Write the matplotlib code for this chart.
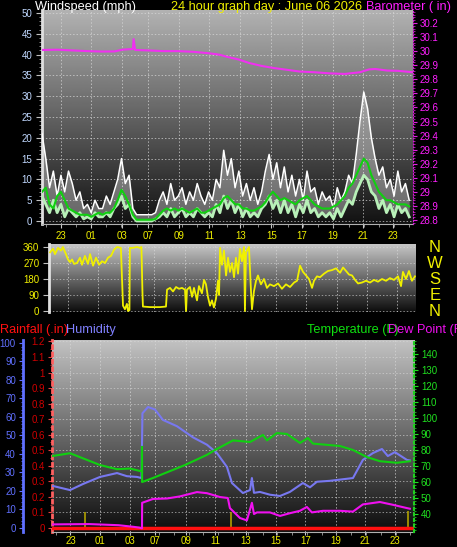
import numpy as np
import matplotlib.pyplot as plt

plt.rcParams['font.family'] = ['Liberation Sans', 'DejaVu Sans']

# x axis: hours from the left edge of the graph
tick_hours = [1.25, 3.25, 5.3, 7.0, 9.05, 11.05, 13.1, 15.15, 17.15, 19.2, 21.2, 23.2]
tick_labels = ['23', '01', '03', '07', '09', '11', '13', '15', '17', '19', '21', '23']

# wind (mph), one reading every 15 minutes
gust = [21, 15, 8, 12, 6, 11, 7, 12, 9, 5, 7, 3, 4, 2, 5, 3,
        3, 6, 4, 7, 10, 15, 9, 11, 3, 1.5, 1.5, 1.5, 1.5, 1.5, 2, 5,
        7, 4, 9, 5, 6, 8, 4, 7, 5, 9, 6, 4, 7, 5, 10, 8,
        17, 11, 15, 8, 12, 6, 9, 5, 8, 4, 7, 12, 16, 10, 14, 8,
        13, 7, 11, 6, 10, 5, 12, 7, 8, 4, 7, 5, 6, 3, 8, 5,
        7, 11, 9, 16, 24, 31, 27, 20, 15, 11, 13, 8, 10, 6, 12, 7,
        9, 5]
speed = [6, 4, 2, 5, 2, 4, 1, 3, 2, 1, 2, 0.5, 1, 0.5, 2, 1,
         1, 2, 1, 3, 4, 6, 3, 4, 1, 0, 0, 0, 0, 0, 0.5, 1,
         2, 1, 3, 1, 2, 3, 1, 2, 1, 3, 2, 1, 2, 1, 4, 2,
         6, 3, 5, 2, 4, 1, 3, 1, 2, 1, 3, 4, 6, 3, 5, 2,
         5, 2, 4, 1, 4, 2, 5, 2, 3, 1, 2, 1, 2, 0.5, 3, 1,
         3, 5, 4, 7, 9, 11, 10, 7, 6, 3, 5, 2, 4, 1, 4, 2,
         3, 1]
avg = [7, 8, 4, 3, 6, 7, 5, 3, 2.5, 2, 1.5, 1.5, 1.5, 1, 1.5, 2,
       1.5, 2, 2, 3, 5, 7.5, 6, 4, 1.5, 0.3, 0.3, 0.3, 0.3, 0.3, 0.5, 1.5,
       2.5, 3, 2.5, 3, 2.5, 3, 2.5, 2, 2.5, 3, 2, 2, 2.5, 3, 3.5, 4,
       5.5, 6, 5, 4, 4, 3, 3, 2.5, 2.5, 3, 3.5, 4.5, 6, 7, 6, 5,
       5.5, 5, 4.5, 4, 5, 5.5, 6, 5, 4, 3.5, 3, 3, 3, 3.5, 4, 5,
       6, 8, 9, 11, 13, 15, 14, 11, 9, 7, 6, 5, 5, 4.5, 4, 4,
       4, 3.5]
wind_hours = np.arange(len(gust)) * 0.25

# barometer (in)
baro_hours = [0, 1, 2, 3, 4, 4.8, 5.3, 6.0, 6.05, 6.15, 7, 8, 9, 10, 11, 11.7,
              12.2, 13, 13.7, 14.5, 15.3, 16, 17, 18, 19, 20, 21, 21.6, 22,
              22.8, 23.5, 24.5]
baro = [30.008, 30.01, 30.005, 30.0, 29.997, 29.998, 30.01, 30.015, 30.085,
        30.008, 30.005, 30.0, 30.0, 29.995, 29.985, 29.975, 29.96, 29.94,
        29.915, 29.895, 29.88, 29.87, 29.855, 29.85, 29.842, 29.838, 29.85,
        29.87, 29.873, 29.862, 29.86, 29.85]

# wind direction (degrees)
wdir_hours = [0.07, 0.27, 0.4, 0.6, 0.8, 0.93, 1.13, 1.27, 1.4, 1.54, 1.67, 1.87,
              2.07, 2.2, 2.4, 2.6, 2.74, 2.94, 3.14, 3.34, 3.54, 3.74, 3.94,
              4.14, 4.34, 4.54, 4.8, 4.94, 5.07, 5.2, 5.27, 5.37, 5.4, 5.6,
              5.87, 6.07, 6.17, 6.24, 6.27, 6.74, 7.41, 7.81, 7.88, 8.08,
              8.28, 8.48, 8.68, 8.88, 9.08, 9.15, 9.21, 9.41, 9.55, 9.68,
              9.88, 10.01, 10.21, 10.35, 10.48, 10.61, 10.75, 10.88, 11.01,
              11.15, 11.28, 11.35, 11.42, 11.55, 11.68, 11.82, 11.95, 12.08,
              12.22, 12.35, 12.48, 12.62, 12.75, 12.88, 13.02, 13.08, 13.15,
              13.35, 13.48, 13.55, 13.68, 13.82, 13.95, 14.15, 14.35, 14.55,
              14.75, 15.02, 15.29, 15.55, 15.82, 16.09, 16.36, 16.56, 16.76,
              16.96, 17.16, 17.36, 17.56, 17.69, 17.89, 18.09, 18.36, 18.62,
              18.89, 19.16, 19.43, 19.63, 19.83, 20.03, 20.23, 20.43, 20.63,
              20.89, 21.16, 21.43, 21.7, 21.96, 22.23, 22.5, 22.76, 23.03,
              23.3, 23.5, 23.63, 23.83, 24.03, 24.23, 24.43]
wdir = [330, 350, 320, 355, 340, 360, 320, 290, 275, 290, 265, 270,
        300, 260, 310, 265, 320, 255, 300, 260, 280, 270, 300,
        310, 345, 360, 355, 30, 10, 40, 0, 5, 355, 355,
        360, 355, 360, 100, 25, 22, 22, 25, 120, 130,
        110, 135, 125, 130, 120, 0, 120, 135, 80, 130,
        60, 140, 100, 175, 150, 80, 30, 60, 20,
        70, 170, 90, 355, 260, 340, 200, 300, 220,
        270, 190, 300, 210, 350, 280, 360, 0, 330,
        360, 120, 10, 110, 170, 200, 150, 180, 130,
        150, 140, 155, 125, 150, 135, 160, 170, 255,
        220, 200, 180, 130, 170, 195, 190, 210, 225,
        230, 240, 215, 245, 225, 205, 200, 175, 155,
        160, 170, 160, 175, 165, 180, 170, 185, 175,
        195, 140, 220, 180, 225, 170, 195]

# temperature / dew point (F)
temp_hours = [0.07, 1.22, 3.25, 4.4, 5.28, 5.95, 6.08, 6.09, 6.1, 6.83, 9.0,
              10.49, 11.03, 12.25, 13.4, 14.28, 14.55, 15.22, 15.9, 16.78,
              17.32, 17.66, 19.49, 20.37, 21.31, 22.19, 23.34, 24.22]
temp = [76.3, 78, 70.6, 68, 68.4, 66.9, 67, 82, 60, 62.5, 70.6,
        77, 80, 86, 85, 89.4, 86, 90.6, 90, 84.4,
        87.5, 84, 82.5, 80, 75.6, 73, 72, 73]
dew_hours = [0.07, 2.5, 4.5, 5.5, 5.9, 6.09, 6.1, 6.83, 7.78, 8.66, 9.81,
             10.49, 11.37, 11.9, 12.04, 12.72, 13.19, 13.53, 13.67, 13.87,
             14.75, 15.43, 16.1, 16.78, 17.25, 17.59, 18.34, 19.49, 20.37,
             21.04, 22.19, 23.0, 24.02, 24.22]
dew = [33.5, 33.7, 33, 32, 31.5, 31, 47, 49.4, 49.7, 51, 53.7,
       53, 50.6, 50, 43.7, 37.5, 36, 47, 40, 41,
       41, 38.8, 40.5, 42, 44.4, 41, 42, 42, 41.5,
       46, 47.5, 45.9, 43.7, 43.3]

# humidity (%)
hum_hours = [0.07, 1.22, 2.1, 3.25, 4.4, 5.07, 5.75, 6.06, 6.12, 6.5, 6.97,
             7.51, 8.46, 9.54, 10.49, 11.16, 11.84, 12.18, 12.92, 13.4, 13.53,
             13.67, 14.07, 14.75, 15.43, 16.1, 16.98, 17.46, 17.93, 18.81,
             20.37, 21.04, 21.72, 22.33, 22.73, 23.21, 24.02, 24.22]
hum = [22.7, 20.5, 23.8, 27.6, 29.7, 28, 27.6, 27, 62, 65.4, 64,
       58.4, 55, 49, 45, 40.5, 33, 24.3, 18.9, 20.5, 27,
       19, 19.5, 18, 17.3, 19.5, 24.3, 22, 25, 25.5,
       27, 36.8, 40.5, 42.7, 38.9, 41, 36.8, 36.5]

# rainfall (in)
rain_hours = [0, 24.5]
rain = [0, 0]
rain_mark_hours = [2.23, 12.1, 24.08]
rain_mark = [0.1, 0.1, 0.11]

W, H = 457, 547
fig = plt.figure(figsize=(W / 100, H / 100), dpi=100, facecolor='black')


def box(l, t, r, b):
    return [l / W, 1 - b / H, (r - l) / W, (b - t) / H]


def shade(ax, top, bottom):
    grad = np.linspace(top, bottom, 256).reshape(-1, 1)
    ax.imshow(grad, cmap='gray', vmin=0, vmax=1, extent=(0, 1, 0, 1),
              transform=ax.transAxes, aspect='auto', zorder=0)


def style_x(ax, labels=True):
    ax.set_xlim(0, 24.5)
    ax.set_xticks(tick_hours)
    ax.set_xticks(np.arange(0.25, 24.5, 1.0), minor=True)
    if labels:
        ax.set_xticklabels(tick_labels)
    else:
        ax.set_xticklabels([])
    ax.tick_params(axis='x', which='major', colors='#c8c8c8', labelcolor='#f0f000',
                   labelsize=7, length=2, pad=1)
    ax.tick_params(axis='x', which='minor', colors='#a0a0a0', length=2)
    ax.grid(True, which='major', color='#d8d8d8', linestyle=(0, (1.5, 2)),
            linewidth=0.7, alpha=0.7)


# ---------------- wind speed / barometer ----------------
ax1 = fig.add_axes(box(42, 10, 413, 224))
shade(ax1, 0.70, 0.07)
ax1.fill_between(wind_hours, speed, gust, color='white', alpha=0.35, lw=0, zorder=2)
ax1.plot(wind_hours, gust, color='white', lw=1.1, zorder=3)
ax1.plot(wind_hours, speed, color='#b8f0b8', lw=2.0, zorder=4)
ax1.plot(wind_hours, avg, color='#10d010', lw=1.5, zorder=5)
ax1.set_ylim(-0.72, 50.72)
ax1.set_yticks(range(0, 51, 5))
ax1.set_yticks(range(0, 51, 1), minor=True)
ax1.tick_params(axis='y', which='major', colors='#c0c0c0', labelcolor='#c0d8ff',
                labelsize=7, length=4, pad=3)
ax1.tick_params(axis='y', which='minor', colors='#a0a0a0', length=2)
style_x(ax1)
ax1.tick_params(axis='x', which='major', length=3, pad=2)
ax1.grid(True, axis='y', color='#d8d8d8', linestyle=(0, (1.5, 2)), linewidth=0.7, alpha=0.7)
for s in ['top', 'right']:
    ax1.spines[s].set_visible(False)
ax1.spines['left'].set_color('#e0e0e0')
ax1.spines['left'].set_linewidth(2)
ax1.spines['bottom'].set_color('#b0b0b0')

axb = ax1.twinx()
axb.plot(baro_hours, baro, color='#f030f0', lw=1.5, zorder=6)
axb.set_ylim(28.772, 30.292)
axb.set_yticks(np.arange(28.8, 30.25, 0.1))
axb.set_yticklabels(['%g' % round(v, 1) for v in np.arange(28.8, 30.25, 0.1)])
axb.set_yticks(np.arange(28.78, 30.29, 0.02), minor=True)
axb.tick_params(axis='y', which='major', colors='#e020e0', labelcolor='#ff20ff',
                labelsize=7, length=3, pad=2)
axb.tick_params(axis='y', which='minor', colors='#c020c0', length=1.5)
for s in ['top', 'left', 'bottom']:
    axb.spines[s].set_visible(False)
axb.spines['right'].set_color('#d020d0')
axb.spines['right'].set_linestyle(':')

fig.text(35 / W, 1 - 10 / H, 'Windspeed (mph)', color='white', fontsize=9.2, va='baseline')
fig.text(171 / W, 1 - 10 / H, '24 hour graph day : June 06 2026', color='#f0f000',
         fontsize=9.2, va='baseline')
fig.text(366 / W, 1 - 10 / H, 'Barometer ( in)', color='#ff20ff', fontsize=9.2,
         va='baseline')

# ---------------- wind direction ----------------
ax2 = fig.add_axes(box(49, 244, 416, 312))
shade(ax2, 0.78, 0.05)
ax2.plot(wdir_hours, wdir, color='#f0f000', lw=1.3, zorder=3)
ax2.set_ylim(-5.6, 376.9)
ax2.set_yticks([0, 90, 180, 270, 360])
ax2.tick_params(axis='y', colors='#c0c0c0', labelcolor='#f0f000', labelsize=7,
                length=4, pad=3)
style_x(ax2, labels=False)
ax2.tick_params(axis='x', which='both', length=0)
ax2.grid(True, axis='y', color='#d8d8d8', linestyle=(0, (1.5, 2)), linewidth=0.7, alpha=0.6)
for s in ['top', 'right', 'bottom']:
    ax2.spines[s].set_visible(False)
ax2.spines['left'].set_color('#e0e0e0')
ax2.spines['left'].set_linewidth(2)
for i, c in enumerate(['N', 'W', 'S', 'E', 'N']):
    fig.text(435 / W, 1 - (247 + 16.2 * i) / H, c, color='#f0f000', fontsize=12,
             ha='center', va='center')

# ---------------- rain / humidity / temperature ----------------
ax3 = fig.add_axes(box(52, 340, 414, 532))
shade(ax3, 0.76, 0.05)
ax3.plot(rain_hours, rain, color='#ff1010', lw=2.5, zorder=4)
ax3.vlines(rain_mark_hours, 0, rain_mark, color='#b0a000', lw=1.2, zorder=3)
ax3.set_ylim(-0.0257, 1.209)
ax3.set_yticks(np.arange(0, 1.25, 0.1))
ax3.set_yticklabels(['%g' % round(v, 1) for v in np.arange(0, 1.25, 0.1)])
ax3.set_yticks(np.arange(0, 1.21, 0.05), minor=True)
ax3.tick_params(axis='y', which='major', colors='#e04040', labelcolor='#d00000',
                labelsize=7, length=3, pad=2)
ax3.tick_params(axis='y', which='minor', colors='#e04040', length=1.5)
style_x(ax3)
ax3.grid(True, axis='y', color='#d8d8d8', linestyle=(0, (1.5, 2)), linewidth=0.7, alpha=0.6)
for s in ['top', 'right']:
    ax3.spines[s].set_visible(False)
ax3.spines['left'].set_color('#ff6060')
ax3.spines['left'].set_linestyle(':')
ax3.spines['left'].set_linewidth(2)
ax3.spines['bottom'].set_color('#b0b0b0')

axh = ax3.twinx()
axh.yaxis.set_ticks_position('left')
axh.yaxis.set_label_position('left')
axh.spines['left'].set_position(('outward', 21))
axh.plot(hum_hours, hum, color='#7878f0', lw=1.5, zorder=5)
axh.set_ylim(-2.16, 101.6)
axh.set_yticks(range(0, 101, 10))
axh.set_yticks(range(0, 101, 2), minor=True)
axh.tick_params(axis='y', which='major', colors='#6070ff', labelcolor='#6070ff',
                labelsize=7, length=3, pad=2)
axh.tick_params(axis='y', which='minor', colors='#6070ff', length=1.5)
for s in ['top', 'right', 'bottom']:
    axh.spines[s].set_visible(False)
axh.spines['left'].set_color('#6070ff')
axh.spines['left'].set_linewidth(2)

axt = ax3.twinx()
axt.plot(temp_hours, temp, color='#10d010', lw=1.5, zorder=5)
axt.plot(dew_hours, dew, color='#f010f0', lw=1.5, zorder=5)
axt.set_ylim(28.75, 148.75)
axt.set_yticks(range(40, 141, 10))
axt.set_yticks(range(30, 149, 2), minor=True)
axt.tick_params(axis='y', which='major', colors='#20e020', labelcolor='#20e020',
                labelsize=7, length=3, pad=2)
axt.tick_params(axis='y', which='minor', colors='#20c020', length=1.5)
for s in ['top', 'left', 'bottom']:
    axt.spines[s].set_visible(False)
axt.spines['right'].set_color('#20d020')
axt.spines['right'].set_linestyle(':')
axt.spines['right'].set_linewidth(1.5)

fig.text(0, 1 - 333 / H, 'Rainfall (.in)', color='#ff1010', fontsize=9.2, va='baseline')
fig.text(66 / W, 1 - 333 / H, 'Humidity', color='#8080ff', fontsize=9.2, va='baseline')
fig.text(307 / W, 1 - 333 / H, 'Temperature (F)', color='#10e010', fontsize=9.2,
         va='baseline')
fig.text(388 / W, 1 - 333 / H, 'Dew Point (F)', color='#f010f0', fontsize=9.2,
         va='baseline')

fig.savefig('out.png', dpi=100, facecolor='black')
